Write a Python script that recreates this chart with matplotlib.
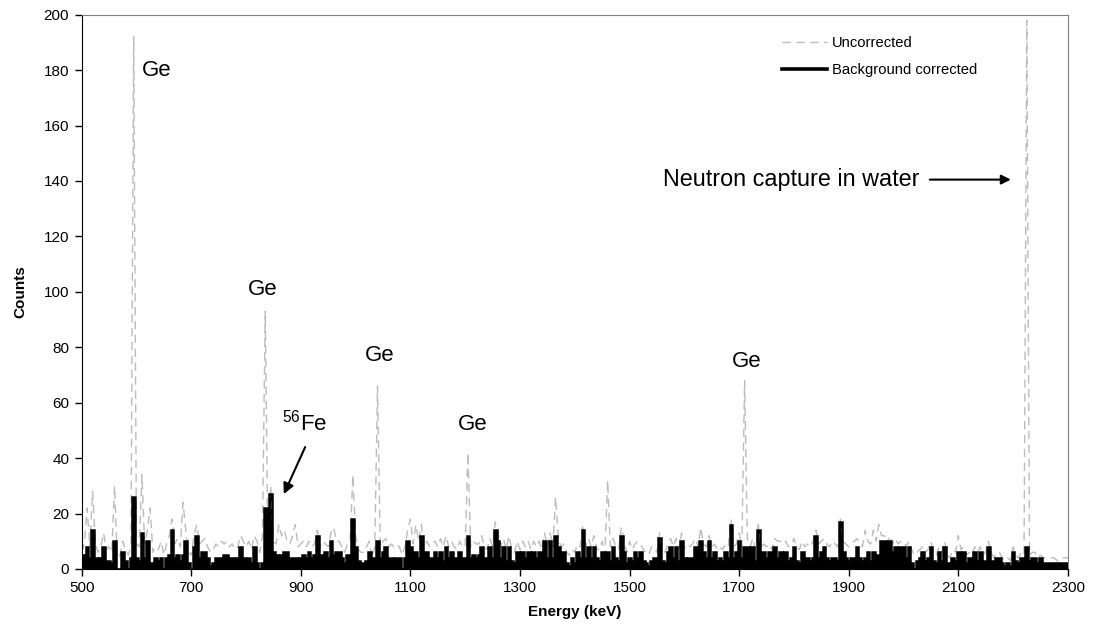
import numpy as np
import matplotlib
matplotlib.use('Agg')
from matplotlib import pyplot as plt
from matplotlib.lines import Line2D

plt.rcParams['font.family'] = ['Liberation Sans', 'DejaVu Sans']
plt.rcParams['mathtext.fontset'] = 'custom'
plt.rcParams['mathtext.rm'] = 'Liberation Sans'

# channel energies, 5 keV bins
energy = list(range(500, 2301, 5))

# background corrected counts, one row per 100 keV
corrected = [
    3, 5, 8, 4, 14, 4, 2, 4, 8, 3, 3, 2, 10, 0, 0, 6, 3, 0, 4, 26,          # 500
    4, 3, 13, 4, 10, 2, 0, 4, 3, 4, 0, 4, 5, 14, 4, 5, 3, 5, 10, 2,          # 600
    0, 8, 12, 4, 6, 6, 4, 1, 2, 4, 4, 4, 5, 5, 4, 4, 3, 4, 8, 4,             # 700
    3, 4, 2, 8, 2, 0, 2, 22, 3, 27, 6, 5, 4, 5, 6, 6, 4, 4, 4, 3,            # 800
    4, 5, 4, 6, 4, 5, 12, 4, 5, 6, 4, 10, 5, 6, 6, 4, 2, 5, 4, 18,           # 900
    8, 3, 2, 2, 3, 6, 0, 4, 10, 4, 6, 8, 4, 4, 3, 4, 4, 0, 4, 10,            # 1000
    8, 4, 6, 4, 12, 4, 6, 4, 4, 6, 4, 6, 3, 8, 4, 6, 4, 3, 6, 4,             # 1100
    4, 12, 4, 5, 4, 5, 8, 4, 3, 8, 4, 14, 10, 4, 8, 3, 8, 3, 2, 6,           # 1200
    3, 6, 4, 6, 3, 6, 4, 6, 3, 10, 4, 10, 4, 12, 8, 4, 6, 2, 1, 4,           # 1300
    2, 6, 4, 14, 4, 8, 4, 8, 4, 3, 6, 0, 6, 3, 8, 4, 3, 12, 6, 2,            # 1400
    4, 3, 6, 4, 6, 3, 2, 1, 3, 4, 2, 11, 3, 2, 6, 8, 4, 8, 3, 10,            # 1500
    4, 3, 4, 4, 8, 4, 10, 6, 4, 10, 4, 6, 3, 4, 3, 6, 4, 16, 4, 6,           # 1600
    10, 4, 8, 8, 4, 8, 3, 14, 4, 6, 4, 6, 3, 8, 4, 6, 4, 6, 3, 4,            # 1700
    8, 3, 2, 6, 3, 4, 3, 4, 12, 4, 6, 8, 4, 3, 4, 4, 3, 17, 6, 4,            # 1800
    3, 4, 4, 8, 4, 3, 4, 6, 3, 6, 4, 5, 10, 10, 4, 10, 6, 8, 6, 8,           # 1900
    8, 4, 8, 2, 0, 3, 4, 6, 3, 4, 8, 3, 2, 6, 3, 8, 2, 1, 4, 3,              # 2000
    6, 4, 6, 2, 4, 2, 6, 3, 6, 2, 3, 8, 3, 2, 4, 4, 2, 1, 2, 1,              # 2100
    6, 3, 2, 4, 3, 8, 3, 4, 4, 2, 4, 2, 2, 2, 2, 2, 0, 2, 2, 2,              # 2200
    2,
]

# uncorrected counts, same bins
uncorrected = [
    6, 9, 22, 8, 28, 9, 6, 8, 13, 7, 8, 6, 30, 4, 5, 10, 7, 5, 8, 192,       # 500
    9, 8, 34, 9, 14, 22, 6, 8, 7, 10, 5, 9, 12, 18, 9, 11, 8, 24, 14, 6,     # 600
    5, 12, 16, 9, 10, 11, 8, 6, 7, 9, 8, 10, 9, 10, 8, 9, 7, 8, 12, 10,      # 700
    8, 10, 7, 12, 10, 6, 12, 93, 8, 30, 10, 9, 16, 12, 14, 10, 9, 12, 16, 8, # 800
    9, 10, 8, 10, 8, 9, 14, 8, 10, 9, 8, 13, 15, 10, 10, 8, 6, 9, 10, 34,    # 900
    12, 7, 6, 6, 8, 10, 4, 8, 66, 8, 10, 11, 8, 9, 8, 9, 8, 5, 8, 14,        # 1000
    18, 9, 16, 10, 16, 8, 10, 8, 9, 10, 8, 11, 8, 12, 8, 10, 8, 7, 10, 8,    # 1100
    8, 42, 8, 10, 9, 9, 12, 8, 7, 11, 8, 17, 13, 8, 11, 7, 12, 7, 6, 10,     # 1200
    7, 10, 8, 10, 7, 10, 8, 10, 7, 13, 8, 13, 8, 26, 11, 8, 9, 6, 5, 7,      # 1300
    6, 9, 8, 16, 8, 11, 8, 12, 7, 7, 10, 5, 32, 8, 11, 8, 7, 15, 10, 6,      # 1400
    10, 7, 9, 10, 9, 7, 6, 5, 8, 8, 6, 13, 7, 6, 9, 11, 8, 11, 7, 13,        # 1500
    8, 7, 8, 9, 11, 8, 15, 9, 8, 12, 8, 9, 7, 8, 7, 9, 8, 18, 8, 9,          # 1600
    13, 8, 68, 11, 8, 11, 7, 16, 8, 9, 8, 9, 7, 11, 10, 10, 9, 10, 8, 9,     # 1700
    11, 8, 7, 10, 8, 9, 8, 10, 14, 9, 10, 11, 9, 8, 10, 9, 8, 18, 10, 9,     # 1800
    8, 9, 10, 11, 9, 8, 14, 10, 9, 14, 10, 16, 12, 12, 9, 12, 9, 11, 9, 10,  # 1900
    10, 8, 10, 7, 5, 6, 7, 8, 6, 7, 10, 6, 5, 8, 6, 10, 5, 4, 7, 6,          # 2000
    12, 7, 8, 5, 6, 5, 8, 6, 8, 5, 6, 10, 6, 4, 6, 6, 4, 3, 4, 3,            # 2100
    8, 5, 4, 6, 5, 198, 5, 6, 6, 4, 5, 4, 4, 4, 4, 4, 3, 4, 4, 4,            # 2200
    4,
]

fig = plt.figure(figsize=(10.93, 6.4), dpi=100)
ax = fig.add_axes([0.0747, 0.111, 0.9023, 0.866])

ax.plot(energy, uncorrected, color='#bcbcbc', lw=1.0, linestyle=(0, (6, 4)))
# corrected spectrum as a filled histogram with a heavy outline
ax.fill_between(energy, corrected, step='mid', color='black', lw=0)
ax.step(energy, corrected, where='mid', color='black', lw=1.8,
        solid_joinstyle='miter')

ax.set_xlim(500, 2300)
ax.set_ylim(0, 200)
ax.set_xticks(np.arange(500, 2301, 200))
ax.set_yticks(np.arange(0, 201, 20))
ax.tick_params(direction='out', length=5, width=1, labelsize=11, pad=4)

for side in ['top', 'right']:
    ax.spines[side].set_color('#808080')
for side in ['left', 'bottom']:
    ax.spines[side].set_color('black')

ax.set_xlabel('Energy (keV)', fontsize=11, fontweight='bold', labelpad=7)
ax.set_ylabel('Counts', fontsize=11, fontweight='bold', labelpad=12)

# peak labels
lab = dict(fontsize=16, ha='center', va='center')
ax.text(637, 180, 'Ge', **lab)
ax.text(831, 101, 'Ge', **lab)
ax.text(1044, 77, 'Ge', **lab)
ax.text(1214, 52, 'Ge', **lab)
ax.text(1713, 75, 'Ge', **lab)
ax.text(906, 53, r'$\mathregular{^{56}Fe}$', **lab)
ax.annotate('', xy=(869, 27), xytext=(908, 44),
            arrowprops=dict(arrowstyle='-|>', color='black', lw=1.5,
                            mutation_scale=16, shrinkA=0, shrinkB=0))
ax.text(1561, 140.5, 'Neutron capture in water', fontsize=16.8,
        ha='left', va='center')
ax.annotate('', xy=(2196, 140.5), xytext=(2048, 140.5),
            arrowprops=dict(arrowstyle='-|>', color='black', lw=1.5,
                            mutation_scale=14, shrinkA=0, shrinkB=0))

handles = [Line2D([], [], color='#bcbcbc', lw=1.0, linestyle=(0, (6, 4))),
           Line2D([], [], color='black', lw=2.6)]
ax.legend(handles, ['Uncorrected', 'Background corrected'],
          loc='upper left', bbox_to_anchor=(0.704, 0.972), frameon=False,
          fontsize=10.6, handlelength=3.1, handletextpad=0.3, labelspacing=0.9,
          borderaxespad=0)

fig.savefig('out.png', dpi=100)
